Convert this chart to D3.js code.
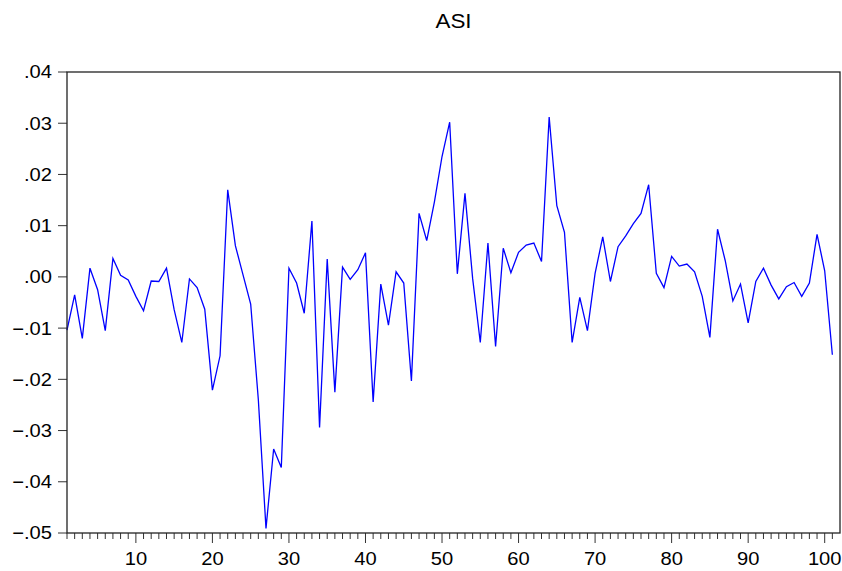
<!DOCTYPE html>
<html>
<head>
<meta charset="utf-8">
<script src="https://cdn.jsdelivr.net/npm/d3@7"></script>
<style>
  body { margin: 0; background: #fff; }
  svg text { font-family: "Liberation Sans", Arial, sans-serif; fill: #000; }
</style>
</head>
<body>
<svg id="chart" width="842" height="571"></svg>
<script>
// ASI series, observations 1..101
const asi = [
  -0.0104, -0.0035, -0.0120, 0.0017, -0.0025, -0.0105, 0.0036, 0.0003, -0.0006, -0.0038,
  -0.0066, -0.0008, -0.0009, 0.0017, -0.0064, -0.0128, -0.0004, -0.0021, -0.0063, -0.0221,
  -0.0154, 0.0170, 0.0061, 0.0004, -0.0053, -0.0240, -0.0491, -0.0336, -0.0372, 0.0017,
  -0.0012, -0.0071, 0.0109, -0.0294, 0.0035, -0.0225, 0.0019, -0.0005, 0.0014, 0.0047,
  -0.0244, -0.0014, -0.0094, 0.0010, -0.0012, -0.0203, 0.0124, 0.0071, 0.0146, 0.0235,
  0.0302, 0.0006, 0.0163, -0.0003, -0.0128, 0.0066, -0.0136, 0.0056, 0.0008, 0.0048,
  0.0062, 0.0066, 0.0030, 0.0312, 0.0139, 0.0087, -0.0128, -0.0040, -0.0105, 0.0007,
  0.0078, -0.0009, 0.0059, 0.0080, 0.0104, 0.0124, 0.0180, 0.0007, -0.0021, 0.0040,
  0.0021, 0.0025, 0.0010, -0.0038, -0.0118, 0.0093, 0.0032, -0.0047, -0.0014, -0.0090,
  -0.0009, 0.0017, -0.0016, -0.0043, -0.0019, -0.0011, -0.0038, -0.0012, 0.0083, 0.0012,
  -0.0152
];
const obs = asi.map((d, i) => i + 1);
const yTicks = [-0.05, -0.04, -0.03, -0.02, -0.01, 0.00, 0.01, 0.02, 0.03, 0.04];
const xMajor = [10, 20, 30, 40, 50, 60, 70, 80, 90, 100];
const title = 'ASI';

const svg = d3.select('#chart');
const plotLeft = 67, plotRight = 840, plotTop = 72, plotBottom = 533;
const stretch = 1.12; // text in the original is drawn a little wide

const x = d3.scaleLinear().domain([1, 102]).range([plotLeft, plotRight]);
const y = d3.scaleLinear().domain([-0.05, 0.04]).range([plotBottom, plotTop]);

//Title
svg.append('text')
    .attr('transform', `translate(${(plotLeft + plotRight) / 2},28) scale(${stretch},1)`)
    .attr('text-anchor', 'middle')
    .style('font-size', '20px')
    .text(title);

//Y axis ticks and labels
let fmtY = d => d3.format('.2f')(d).replace('0.', '.');
let yAxis = svg.append('g');
yAxis.selectAll('line')
    .data(yTicks)
    .enter().append('line')
    .attr('x1', plotLeft - 9).attr('x2', plotLeft)
    .attr('y1', d => y(d)).attr('y2', d => y(d))
    .attr('stroke', '#333').attr('stroke-width', 1);
yAxis.selectAll('text')
    .data(yTicks)
    .enter().append('text')
    .attr('transform', d => `translate(52,${y(d)}) scale(${stretch},1)`)
    .attr('dy', '0.36em')
    .attr('text-anchor', 'end')
    .style('font-size', '18px')
    .text(d => fmtY(d));

//X axis ticks: minor every obs, major every 10
let xAxis = svg.append('g');
xAxis.selectAll('line')
    .data(obs)
    .enter().append('line')
    .attr('x1', d => x(d)).attr('x2', d => x(d))
    .attr('y1', plotBottom)
    .attr('y2', d => d % 10 === 0 ? plotBottom + 10 : plotBottom + 6)
    .attr('stroke', '#333').attr('stroke-width', 1);
xAxis.selectAll('text')
    .data(xMajor)
    .enter().append('text')
    .attr('transform', d => `translate(${x(d)},565) scale(${stretch},1)`)
    .attr('text-anchor', 'middle')
    .style('font-size', '18px')
    .text(d => d);

//Series line
let line = d3.line()
    .x((d, i) => x(obs[i]))
    .y(d => y(d));
svg.append('path')
    .datum(asi)
    .attr('d', line)
    .attr('fill', 'none')
    .attr('stroke', '#0000ff')
    .attr('stroke-width', 1.3)
    .attr('stroke-linejoin', 'miter');

//Frame
svg.append('rect')
    .attr('x', plotLeft).attr('y', plotTop)
    .attr('width', plotRight - plotLeft).attr('height', plotBottom - plotTop)
    .attr('fill', 'none')
    .attr('stroke', '#222')
    .attr('stroke-width', 1.3);
</script>
</body>
</html>
